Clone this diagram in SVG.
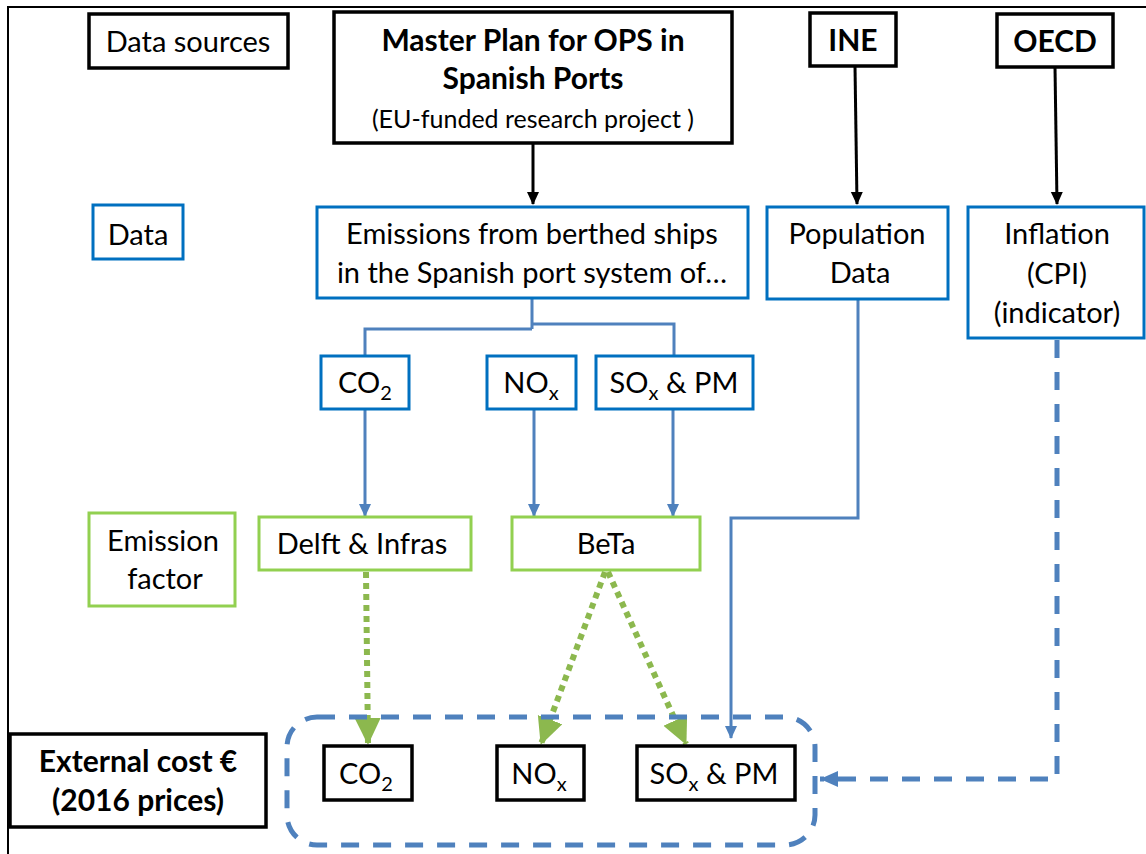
<svg xmlns="http://www.w3.org/2000/svg" width="1146" height="854" viewBox="0 0 1146 854">
<style>
text{font-family:Lato,"Liberation Sans",sans-serif;font-size:29px;fill:#000;text-anchor:middle}
.b{font-weight:bold;font-size:30px}
.bk{fill:#fff;stroke:#000;stroke-width:3.5}
.bl{fill:#fff;stroke:#0070C0;stroke-width:3}
.gr{fill:#fff;stroke:#92D050;stroke-width:3}
.ab{fill:none;stroke:#000;stroke-width:3}
.ablue{fill:none;stroke:#4F81BD;stroke-width:3}
.agr{fill:none;stroke:#8CB84E;stroke-width:6;stroke-dasharray:6 5}
.dash{fill:none;stroke:#4F81BD;stroke-width:5;stroke-dasharray:18 14}
.sub{font-size:20px}
</style>
<defs>
<marker id="mk" markerUnits="userSpaceOnUse" markerWidth="14" markerHeight="14" refX="12" refY="7" orient="auto"><path d="M0,1 L13,7 L0,13 Z" fill="#000"/></marker>
<marker id="mb" markerUnits="userSpaceOnUse" markerWidth="14" markerHeight="14" refX="12" refY="7" orient="auto"><path d="M0,1 L13,7 L0,13 Z" fill="#4F81BD"/></marker>
<marker id="mg" markerUnits="userSpaceOnUse" markerWidth="30" markerHeight="30" refX="26" refY="13" orient="auto"><path d="M0,0 L27,13 L0,26 Z" fill="#8CB84E"/></marker>
<marker id="md" markerUnits="userSpaceOnUse" markerWidth="20" markerHeight="20" refX="18" refY="9" orient="auto"><path d="M0,1 L18,9 L0,17 Z" fill="#4F81BD"/></marker>
</defs>
<path d="M8,854 V7 H1146" fill="none" stroke="#000" stroke-width="2"/>
<g id="connectors">
<path class="ab" d="M533,143 V204" marker-end="url(#mk)"/>
<path class="ab" d="M855,66 L857,204" marker-end="url(#mk)"/>
<path class="ab" d="M1055,67 L1057,204" marker-end="url(#mk)"/>
<path class="ablue" d="M532,298 V329 M365,356 V329 H532 M674,356 V324 H532"/>
<path class="ablue" d="M365,409 V516" marker-end="url(#mb)"/>
<path class="ablue" d="M534,409 V516" marker-end="url(#mb)"/>
<path class="ablue" d="M673,409 V516" marker-end="url(#mb)"/>
<path class="ablue" d="M858,299 V518 H731 V738" marker-end="url(#mb)"/>
<path class="agr" d="M366,572 L368,744" marker-end="url(#mg)"/>
<path class="agr" d="M605,572 L541,744" marker-end="url(#mg)"/>
<path class="agr" d="M608,572 L686,744" marker-end="url(#mg)"/>
<path class="dash" d="M1057,340 V779 H820" marker-end="url(#md)"/>
<rect class="dash" x="287" y="717" width="528" height="128" rx="30"/>
</g>
<g id="n-datasources"><rect class="bk" x="89" y="14" width="199" height="54"/><text x="188" y="52">Data sources</text></g>
<g id="n-master"><rect class="bk" x="334" y="12" width="398" height="131"/>
<text class="b" x="533" y="51">Master Plan for OPS in</text>
<text class="b" x="533" y="89">Spanish Ports</text>
<text x="533" y="128" style="font-size:25px">(EU-funded  research  project )</text></g>
<g id="n-ine"><rect class="bk" x="810" y="13" width="86" height="53"/><text class="b" x="853" y="51">INE</text></g>
<g id="n-oecd"><rect class="bk" x="997" y="14" width="116" height="53"/><text class="b" x="1055" y="52">OECD</text></g>
<g id="n-data"><rect class="bl" x="93" y="205" width="90" height="54"/><text x="138" y="245">Data</text></g>
<g id="n-emissions"><rect class="bl" x="317" y="207" width="431" height="91"/>
<text x="532" y="244">Emissions from berthed ships</text>
<text x="532" y="283">in the Spanish port system of…</text></g>
<g id="n-population"><rect class="bl" x="767" y="207" width="181" height="92"/>
<text x="857" y="244">Population</text><text x="860" y="283">Data</text></g>
<g id="n-inflation"><rect class="bl" x="968" y="207" width="176" height="131"/>
<text x="1057" y="244">Inflation</text><text x="1057" y="284">(CPI)</text><text x="1057" y="323">(indicator)</text></g>
<g id="n-co2"><rect class="bl" x="321" y="356" width="88" height="53"/><text x="365" y="393">CO<tspan class="sub" dy="7">2</tspan></text></g>
<g id="n-nox"><rect class="bl" x="487" y="356" width="89" height="53"/><text x="531" y="393">NO<tspan class="sub" dy="7">x</tspan></text></g>
<g id="n-sox"><rect class="bl" x="596" y="356" width="157" height="53"/><text x="674" y="393">SO<tspan class="sub" dy="7">x</tspan><tspan dy="-7"> &amp; PM</tspan></text></g>
<g id="n-ef"><rect class="gr" x="89" y="513" width="146" height="93"/><text x="163" y="551">Emission</text><text x="165" y="589">factor</text></g>
<g id="n-delft"><rect class="gr" x="259" y="517" width="212" height="53"/><text x="362" y="554">Delft &amp; Infras</text></g>
<g id="n-beta"><rect class="gr" x="512" y="517" width="188" height="53"/><text x="606" y="554">BeTa</text></g>
<g id="n-ext"><rect class="bk" x="10" y="734" width="256" height="93"/>
<text class="b" x="138" y="772">External cost €</text><text class="b" x="138" y="811">(2016 prices)</text></g>
<g id="n-co2b"><rect class="bk" x="324" y="746" width="88" height="54"/><text x="366" y="784">CO<tspan class="sub" dy="7">2</tspan></text></g>
<g id="n-noxb"><rect class="bk" x="497" y="746" width="87" height="54"/><text x="539" y="784">NO<tspan class="sub" dy="7">x</tspan></text></g>
<g id="n-soxb"><rect class="bk" x="637" y="746" width="158" height="54"/><text x="714" y="784">SO<tspan class="sub" dy="7">x</tspan><tspan dy="-7"> &amp; PM</tspan></text></g>
</svg>
